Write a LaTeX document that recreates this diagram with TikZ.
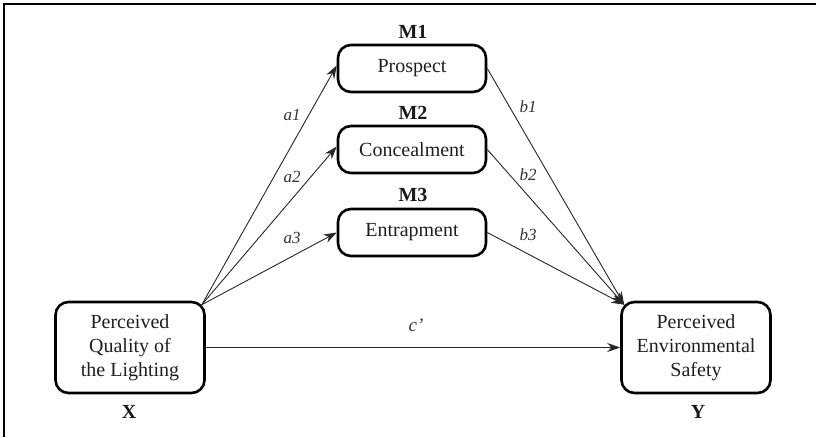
\documentclass[tikz,border=0pt]{standalone}
\usepackage{fontspec}
\setmainfont{Liberation Serif}
\usetikzlibrary{arrows.meta}
\begin{document}
\begin{tikzpicture}[x=1pt,y=-1pt,
  box/.style={draw=black,line width=2.6pt,rounded corners=13pt,align=center,
    font=\fontsize{20}{24}\selectfont,text=black!88,inner sep=0pt},
  mbox/.style={box,minimum width=148pt,minimum height=47pt},
  bigbox/.style={box,minimum width=149pt,minimum height=91pt},
  tag/.style={font=\fontsize{20}{24}\selectfont\bfseries,text=black!90,inner sep=0pt},
  plab/.style={font=\fontsize{17}{20}\selectfont\itshape,text=black!80,inner sep=0pt},
  path/.style={line width=0.9pt,draw=black!85,-{Stealth[length=13pt,width=9pt]}}]
\useasboundingbox (0,0) rectangle (816,437);
\draw[line width=1.5pt] (4,437) -- (4,4) -- (816,4);
% nodes
\node[bigbox] (X) at (130,347.5) {Perceived\\Quality of\\the Lighting};
\node[bigbox] (Y) at (696,347.5) {Perceived\\Environmental\\Safety};
\node[mbox] (M1) at (412,68.5) {Prospect};
\node[mbox] (M2) at (412,149.5) {Concealment};
\node[mbox] (M3) at (412,232.5) {Entrapment};
% tags
\node[tag] (tM1) at (413,32) {M1};
\node[tag] (tM2) at (413,113) {M2};
\node[tag] (tM3) at (413,195) {M3};
\node[tag] (tX) at (129,412) {X};
\node[tag] (tY) at (698,412) {Y};
% anchor points
\coordinate (xs) at ([shift={(-4,4)}]X.north east);
\coordinate (ye) at ([shift={(4,4)}]Y.north west);
% connectors
\draw[path] (xs) -- ([yshift=3pt]M1.west);
\draw[path] (xs) -- ([yshift=3pt]M2.west);
\draw[path] (xs) -- (M3.west);
\draw[path] (M1.east) -- (ye);
\draw[path] (M2.east) -- (ye);
\draw[path] (M3.east) -- (ye);
\draw[path,line width=1.2pt] (X.east) -- (Y.west);
% path labels
\node[plab] (la1) at (292,115) {a1};
\node[plab] (la2) at (292,177) {a2};
\node[plab] (la3) at (292,238) {a3};
\node[plab] (lb1) at (528,107) {b1};
\node[plab] (lb2) at (528,175) {b2};
\node[plab] (lb3) at (528,235) {b3};
\node[plab,font=\fontsize{19}{22}\selectfont\itshape] (lc) at (416,325) {c'};
\end{tikzpicture}
\end{document}
